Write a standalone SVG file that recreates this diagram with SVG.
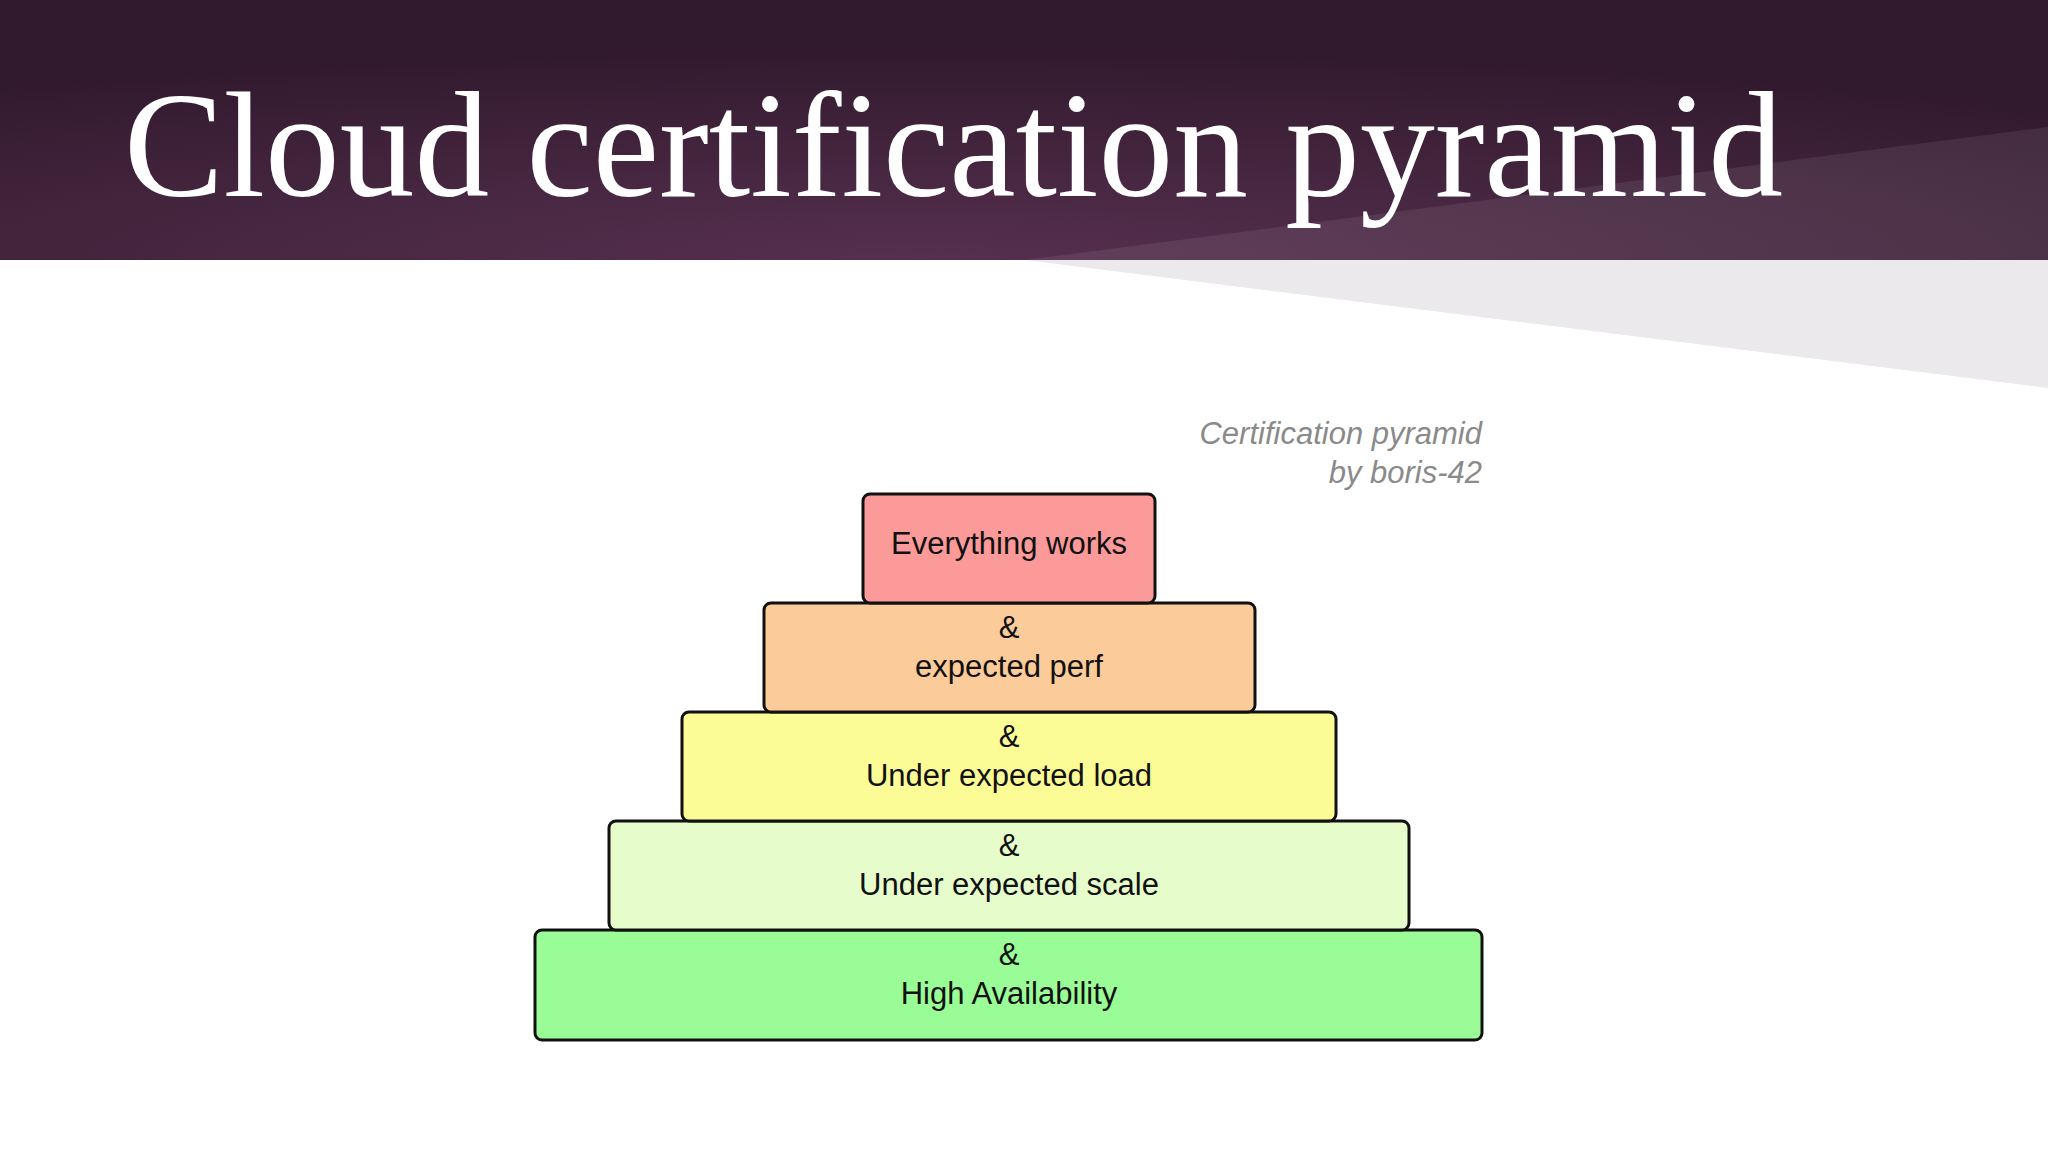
<svg xmlns="http://www.w3.org/2000/svg" width="2048" height="1152" viewBox="0 0 2048 1152">
<defs>
<radialGradient id="hg" cx="0.45" cy="1" r="0.8" gradientTransform="scale(1,1)">
<stop offset="0" stop-color="#56304f"/>
<stop offset="1" stop-color="#321a2e"/>
</radialGradient>
<style>
.b{stroke:#111;stroke-width:3}
.t{font-family:"Liberation Sans",Arial,sans-serif;font-size:31px;fill:#111;text-anchor:middle}
.c{font-family:"Liberation Sans",Arial,sans-serif;font-size:31px;fill:#8a8a8a;font-style:italic;text-anchor:end}
</style>
</defs>
<rect width="2048" height="1152" fill="#ffffff"/>
<rect width="2048" height="260" fill="url(#hg)"/>
<polygon points="1025,260 2048,127 2048,260" fill="#ffffff" fill-opacity="0.08"/>
<polygon points="1025,260 2048,260 2048,388" fill="#ebe9ec"/>
<text x="124" y="196" font-family="Liberation Serif,'Times New Roman',serif" font-size="150" fill="#ffffff" textLength="1659" lengthAdjust="spacingAndGlyphs">Cloud certification pyramid</text>
<text class="c" x="1482" y="444">Certification pyramid</text>
<text class="c" x="1482" y="483">by boris-42</text>
<g id="n5"><rect class="b" x="535" y="930" width="947" height="110" rx="7" fill="#9afc96"/><text class="t" x="1009" y="965">&amp;</text><text class="t" x="1009" y="1004">High Availability</text></g>
<g id="n4"><rect class="b" x="609" y="821" width="800" height="109" rx="7" fill="#e6fccb"/><text class="t" x="1009" y="856">&amp;</text><text class="t" x="1009" y="895">Under expected scale</text></g>
<g id="n3"><rect class="b" x="682" y="712" width="654" height="109" rx="7" fill="#fcfc96"/><text class="t" x="1009" y="747">&amp;</text><text class="t" x="1009" y="786">Under expected load</text></g>
<g id="n2"><rect class="b" x="764" y="603" width="491" height="109" rx="7" fill="#fccb9a"/><text class="t" x="1009" y="638">&amp;</text><text class="t" x="1009" y="677">expected perf</text></g>
<g id="n1"><rect class="b" x="863" y="494" width="292" height="109" rx="7" fill="#fc9a9a"/><text class="t" x="1009" y="554">Everything works</text></g>
<g id="connectors"/>
</svg>
